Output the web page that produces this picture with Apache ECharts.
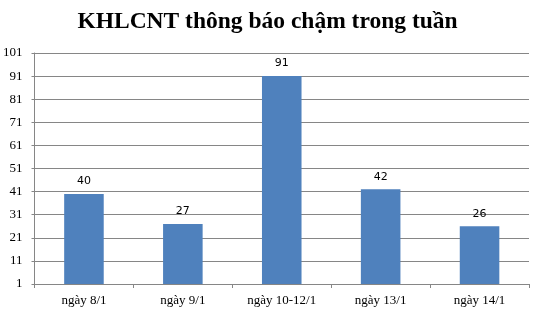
<!DOCTYPE html>
<html><head><meta charset="utf-8">
<script src="https://cdn.jsdelivr.net/npm/echarts@6/dist/echarts.min.js"></script>
<style>html,body{margin:0;padding:0;background:#fff}#c{width:535px;height:314px}</style>
</head><body><div id="c"></div>
<script>
const titleText = 'KHLCNT thông báo chậm trong tuần';
const categories = ['ngày 8/1', 'ngày 9/1', 'ngày 10-12/1', 'ngày 13/1', 'ngày 14/1'];
const values = [40, 27, 91, 42, 26];
const yMin = 1, yMax = 101, yStep = 10;

const chart = echarts.init(document.getElementById('c'), null, {renderer: 'canvas'});
chart.setOption({
  animation: false,
  backgroundColor: '#fff',
  title: {
    text: titleText, left: 'center', top: 5,
    textStyle: {fontFamily: 'Liberation Serif', fontWeight: 'bold', fontSize: 23.5, color: '#000'}
  },
  grid: {left: 34, right: 6, top: 53, bottom: 30, containLabel: false},
  xAxis: {
    type: 'category', data: categories,
    axisLine: {lineStyle: {color: '#868686', width: 1}},
    axisTick: {show: true, alignWithLabel: false, length: 4, lineStyle: {color: '#868686'}},
    axisLabel: {fontFamily: 'Liberation Serif', fontSize: 13, color: '#000', margin: 10}
  },
  yAxis: {
    type: 'value', min: yMin, max: yMax, interval: yStep,
    axisLine: {show: true, lineStyle: {color: '#868686', width: 1}},
    axisTick: {show: true, length: 3, lineStyle: {color: '#868686'}},
    splitLine: {lineStyle: {color: '#868686', width: 1}},
    axisLabel: {fontFamily: 'Liberation Serif', fontSize: 13, color: '#000', margin: 12}
  },
  series: [{
    type: 'bar', data: values, barWidth: '40%',
    itemStyle: {color: '#4F81BD'},
    label: {show: true, position: 'top', distance: 7, fontFamily: 'DejaVu Sans', fontSize: 11, color: '#000'}
  }]
});
</script></body></html>
